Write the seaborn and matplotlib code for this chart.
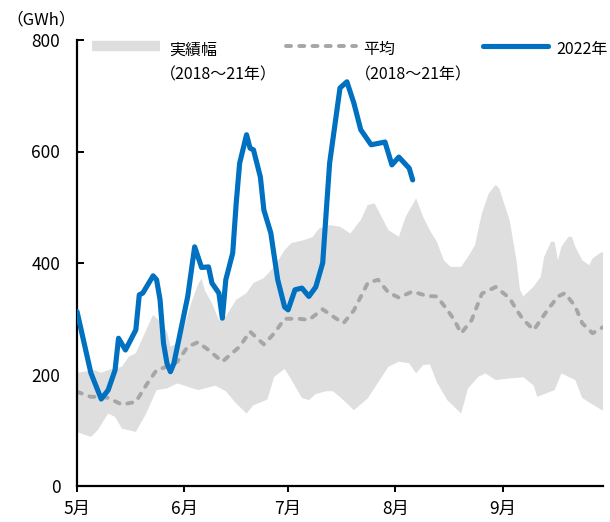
import numpy as np
import pandas as pd
import matplotlib
matplotlib.use("Agg")
import matplotlib.pyplot as plt
from matplotlib.lines import Line2D
import seaborn as sns

# 2018–2021 envelope: upper edge (GWh)
upper_days = ["5/1", "5/6", "5/8", "5/10", "5/14", "5/16", "5/18", "5/21", "5/23", "5/25",
              "5/27", "5/28", "5/30", "6/1", "6/3", "6/5", "6/6", "6/7", "6/9", "6/11",
              "6/13", "6/16", "6/19", "6/21", "6/24", "6/27", "6/30", "7/2", "7/5", "7/8",
              "7/10", "7/13", "7/16", "7/19", "7/22", "7/24", "7/26", "7/28", "7/30", "8/2",
              "8/4", "8/7", "8/9", "8/11", "8/13", "8/15", "8/17", "8/20", "8/22", "8/24",
              "8/26", "8/28", "8/30", "8/31", "9/3", "9/5", "9/6", "9/7", "9/10", "9/12",
              "9/13", "9/15", "9/16", "9/17", "9/18", "9/20", "9/21", "9/22", "9/24", "9/26",
              "9/27", "9/29", "9/30"]
upper_gwh = [203, 208, 203, 208, 214, 232, 238, 280, 307, 295,
             277, 250, 256, 286, 328, 362, 372, 350, 328, 298,
             304, 334, 346, 364, 373, 393, 423, 436, 440, 446,
             462, 468, 465, 453, 477, 504, 507, 483, 459, 447,
             483, 516, 483, 458, 438, 405, 393, 393, 411, 432,
             489, 525, 540, 534, 477, 405, 352, 340, 358, 375,
             411, 438, 438, 405, 429, 447, 447, 429, 405, 396,
             408, 417, 420]

# 2018–2021 envelope: lower edge (GWh)
lower_days = ["5/1", "5/5", "5/7", "5/10", "5/12", "5/14", "5/18", "5/21", "5/24", "5/27",
              "5/30", "6/2", "6/5", "6/10", "6/13", "6/16", "6/19", "6/21", "6/25", "6/27",
              "6/30", "7/2", "7/5", "7/7", "7/9", "7/12", "7/14", "7/17", "7/20", "7/24",
              "7/28", "7/30", "8/2", "8/5", "8/7", "8/9", "8/11", "8/13", "8/16", "8/20",
              "8/22", "8/25", "8/27", "8/30", "9/3", "9/7", "9/10", "9/11", "9/16", "9/18",
              "9/22", "9/24", "9/26", "9/30"]
lower_gwh = [97, 88, 100, 130, 124, 103, 97, 130, 172, 175,
             184, 178, 172, 180, 170, 148, 130, 145, 155, 196,
             210, 190, 158, 154, 165, 170, 170, 154, 136, 157,
             195, 214, 223, 220, 202, 217, 218, 186, 154, 130,
             175, 196, 202, 190, 193, 195, 180, 160, 172, 202,
             190, 158, 150, 135]

# 2018–2021 average (GWh)
mean_days = ["5/1", "5/5", "5/8", "5/10", "5/14", "5/18", "5/21", "5/24", "5/27", "5/30",
             "6/2", "6/5", "6/6", "6/8", "6/12", "6/17", "6/20", "6/24", "6/27", "6/30",
             "7/4", "7/7", "7/11", "7/14", "7/17", "7/20", "7/24", "7/27", "7/30", "8/2",
             "8/6", "8/10", "8/13", "8/16", "8/18", "8/20", "8/23", "8/26", "8/30", "9/3",
             "9/5", "9/7", "9/10", "9/14", "9/17", "9/19", "9/22", "9/24", "9/27", "9/30"]
mean_gwh = [169, 160, 160, 158, 146, 151, 181, 208, 214, 223,
            250, 258, 253, 244, 223, 250, 277, 254, 274, 300,
            300, 298, 317, 304, 292, 315, 364, 370, 347, 338,
            349, 341, 340, 316, 298, 274, 297, 345, 357, 337,
            316, 298, 280, 316, 340, 346, 322, 292, 274, 285]

# 2022 (GWh)
days_2022 = ["5/1", "5/5", "5/8", "5/10", "5/12", "5/13", "5/15", "5/18", "5/19", "5/20",
             "5/23", "5/24", "5/25", "5/26", "5/27", "5/28", "5/29", "5/31", "6/2", "6/4",
             "6/6", "6/8", "6/9", "6/11", "6/12", "6/13", "6/15", "6/16", "6/17", "6/19",
             "6/20", "6/21", "6/23", "6/24", "6/26", "6/28", "6/30", "7/1", "7/3", "7/5",
             "7/7", "7/9", "7/11", "7/12", "7/13", "7/15", "7/16", "7/18", "7/20", "7/22",
             "7/25", "7/29", "7/31", "8/2", "8/5", "8/6"]
gwh_2022 = [313, 203, 156, 172, 208, 265, 244, 280, 343, 346,
            377, 370, 334, 256, 220, 205, 220, 280, 340, 429,
            392, 393, 364, 346, 301, 370, 418, 507, 579, 630,
            606, 603, 554, 495, 454, 370, 321, 316, 352, 355,
            340, 357, 400, 490, 579, 669, 714, 725, 687, 639,
            612, 617, 576, 590, 570, 549]

month_ticks = ["5/1", "6/1", "7/1", "8/1", "9/1"]
month_labels = ["5月", "6月", "7月", "8月", "9月"]
y_ticks = [0, 200, 400, 600, 800]


def to_dates(days):
    return pd.to_datetime(["2022/" + d for d in days], format="%Y/%m/%d")


band_color = "#DEDEDE"
mean_color = "#A6A6A6"
line_color = "#0070C0"
mean_dash = (0, (1.3, 2.1))

sns.set_theme(style="white")
plt.rcParams["font.family"] = ["Noto Sans CJK JP", "DejaVu Sans"]
plt.rcParams["axes.unicode_minus"] = False

fig = plt.figure(figsize=(6.10, 5.22), dpi=100)
ax = fig.add_axes([77 / 610, 36 / 522, 526 / 610, 446 / 522])

# shaded 2018–2021 range as a closed polygon (upper edge, then lower edge reversed)
ux, lx = to_dates(upper_days), to_dates(lower_days)
poly_x = np.concatenate([ux.values, lx.values[::-1]])
poly_y = np.concatenate([np.asarray(upper_gwh, float), np.asarray(lower_gwh, float)[::-1]])
ax.fill(poly_x, poly_y, color=band_color, linewidth=0, zorder=1)

mean_df = pd.DataFrame({"date": to_dates(mean_days), "gwh": mean_gwh})
sns.lineplot(data=mean_df, x="date", y="gwh", ax=ax, color=mean_color,
             linewidth=2.8, linestyle=mean_dash, dash_capstyle="round", zorder=2)

df22 = pd.DataFrame({"date": to_dates(days_2022), "gwh": gwh_2022})
sns.lineplot(data=df22, x="date", y="gwh", ax=ax, color=line_color,
             linewidth=3.7, solid_joinstyle="round", solid_capstyle="round", zorder=3)

ax.set_xlim(pd.Timestamp("2022-05-01"), pd.Timestamp("2022-09-30"))
ax.set_ylim(0, 800)
ax.set_xticks(to_dates(month_ticks))
ax.set_xticklabels(month_labels)
ax.set_yticks(y_ticks)
ax.set_yticklabels([str(v) for v in y_ticks])
ax.set_xlabel("")
ax.set_ylabel("")

for side in ("top", "right"):
    ax.spines[side].set_visible(False)
for side in ("left", "bottom"):
    ax.spines[side].set_color("black")
    ax.spines[side].set_linewidth(1.6)

ax.tick_params(axis="y", direction="in", length=5, width=1.4, color="black",
               labelsize=12.5, pad=12, labelcolor="black", left=True)
ax.tick_params(axis="x", direction="out", length=4, width=1.4, color="black",
               labelsize=12.5, pad=6, labelcolor="black", bottom=True)

# unit label
fig.text(6 / 610, 1 - 20 / 522, "（GWh）", fontsize=12, ha="left", va="center", color="black")

# legend row
key_y = 0.9865
keys = [
    ((0.0285, 0.158), dict(color=band_color, linewidth=7.5, solid_capstyle="butt")),
    ((0.397, 0.530), dict(color=mean_color, linewidth=2.8, linestyle=mean_dash,
                          dash_capstyle="round")),
    ((0.771, 0.896), dict(color=line_color, linewidth=3.7, solid_capstyle="round")),
]
for (x0, x1), style in keys:
    ax.add_line(Line2D([x0, x1], [key_y, key_y], transform=ax.transAxes,
                       clip_on=False, zorder=5, **style))

ax.text(0.175, 0.978, "実績幅", transform=ax.transAxes, fontsize=11.5,
        ha="left", va="center", color="black")
ax.text(0.158, 0.921, "（2018～21年）", transform=ax.transAxes, fontsize=11.5,
        ha="left", va="center", color="black")
ax.text(0.544, 0.978, "平均", transform=ax.transAxes, fontsize=11.5,
        ha="left", va="center", color="black")
ax.text(0.528, 0.921, "（2018～21年）", transform=ax.transAxes, fontsize=11.5,
        ha="left", va="center", color="black")
ax.text(0.912, 0.978, "2022年", transform=ax.transAxes, fontsize=11.5,
        ha="left", va="center", color="black")

fig.savefig("out.png", dpi=100)
